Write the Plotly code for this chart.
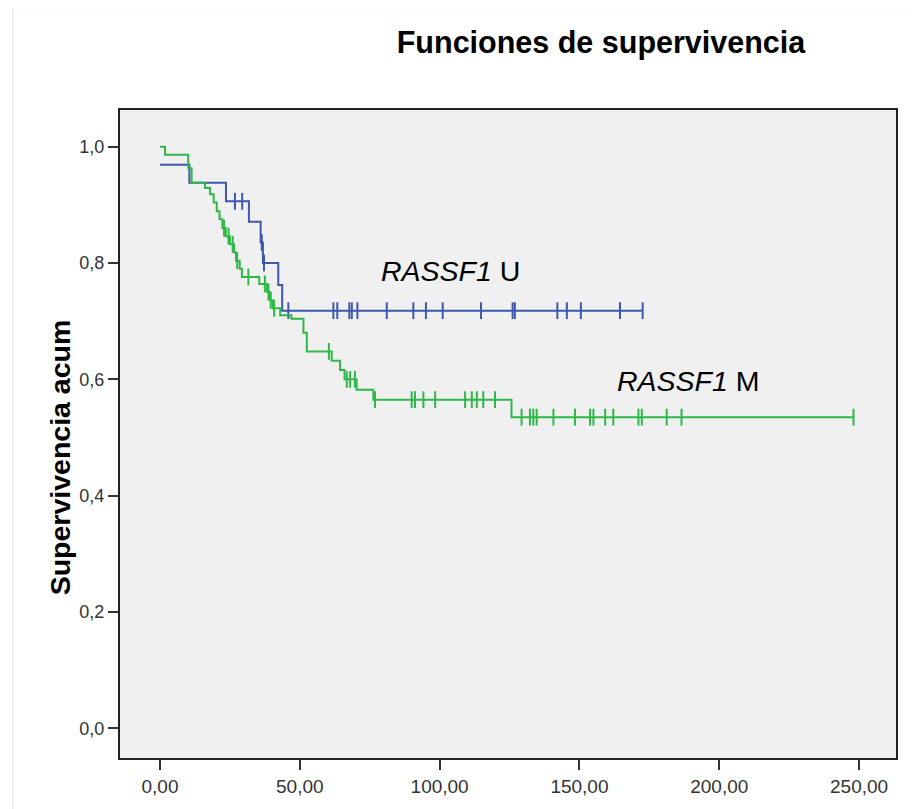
import numpy as np
import plotly.graph_objects as go

# RASSF1 U (no metilado) - tiempos de evento y supervivencia acumulada
u_times = [0, 10.5, 23.6, 31.8, 36.0, 36.8, 42.3, 43.7]
u_surv = [0.969, 0.938, 0.906, 0.871, 0.835, 0.800, 0.762, 0.718]
u_cens = [26.8, 29.4, 36.4, 37.2, 45.9, 62.0, 63.4, 67.7, 68.6, 70.6, 81.1, 90.6,
          95.1, 101.1, 114.8, 126.1, 126.9, 142.1, 145.5, 150.5, 164.5, 172.6]

# RASSF1 M (metilado)
m_times = [0, 1.8, 10.1, 11.3, 16.1, 17.9, 19.2, 20.3, 21.3, 22.3, 23.5, 25.0, 26.5,
           27.2, 28.5, 29.3, 35.5, 38.3, 39.3, 40.3, 43.0, 47.0, 51.3, 52.5, 61.4,
           64.4, 66.0, 70.3, 76.3, 125.7]
m_surv = [1.0, 0.986, 0.963, 0.938, 0.929, 0.918, 0.904, 0.889, 0.875, 0.860, 0.846,
          0.832, 0.818, 0.804, 0.790, 0.776, 0.764, 0.750, 0.736, 0.722, 0.710, 0.704,
          0.680, 0.648, 0.632, 0.616, 0.600, 0.582, 0.565, 0.535]
m_cens = [22.9, 24.5, 26.0, 27.6, 31.6, 37.5, 38.8, 39.6, 40.8, 60.4, 66.8, 68.0, 69.7,
          76.9, 90.0, 91.2, 94.2, 98.4, 109.1, 111.5, 113.3, 115.6, 119.8, 129.3, 132.3,
          133.5, 134.7, 140.7, 148.4, 153.8, 155.0, 159.2, 162.1, 171.1, 172.3, 181.2,
          186.5, 248.0]

BLUE = "#3E58AC"
GREEN = "#2EB848"


def step_value(times, surv, t):
    i = np.searchsorted(times, t, side="right") - 1
    return surv[i]


fig = go.Figure()
for times, surv, cens, col in [(u_times, u_surv, u_cens, BLUE),
                               (m_times, m_surv, m_cens, GREEN)]:
    xs = list(times) + [max(cens)]
    ys = list(surv) + [surv[-1]]
    fig.add_trace(go.Scatter(x=xs, y=ys, mode="lines", line_shape="hv",
                             line=dict(color=col, width=2), showlegend=False))
    fig.add_trace(go.Scatter(x=cens, y=[step_value(times, surv, c) for c in cens],
                             mode="markers", showlegend=False,
                             marker=dict(symbol="line-ns", size=12,
                                         line=dict(color=col, width=2))))

fig.add_annotation(x=104, y=0.787, text="<i>RASSF1</i> U", showarrow=False,
                   font=dict(size=28.5, color="black", family="Liberation Sans"))
fig.add_annotation(x=189, y=0.597, text="<i>RASSF1</i> M", showarrow=False,
                   font=dict(size=28.5, color="black", family="Liberation Sans"))

# titulo del eje y (algo desplazado hacia abajo, como en el original)
fig.add_annotation(xref="paper", yref="paper", x=-0.0773, y=0.464,
                   xanchor="center", yanchor="middle",
                   text="<b>Supervivencia acum</b>", textangle=-90, showarrow=False,
                   font=dict(size=28.5, color="black", family="Liberation Sans"))

fig.update_layout(
    width=913, height=801,
    margin=dict(l=112, r=25, t=102, b=46),
    paper_bgcolor="white", plot_bgcolor="#F0F0F0",
    separators=",.",
    font=dict(family="Liberation Sans", color="#333333"),
    title=dict(text="<b>Funciones de supervivencia</b>", x=0.6495, xanchor="center",
               y=0.9576, yanchor="middle", xref="container", yref="container",
               font=dict(size=30.5, color="black")),
)
fig.update_xaxes(range=[-14.3, 263.2], tickvals=[0, 50, 100, 150, 200, 250],
                 tickformat=".2f", showgrid=False, zeroline=False,
                 showline=True, linecolor="#222222", linewidth=2, mirror=True,
                 ticks="outside", ticklen=10, tickwidth=2, tickcolor="#333333",
                 tickfont=dict(size=19, color="#333333"))
fig.update_yaxes(range=[-0.051, 1.063], tickvals=[0, 0.2, 0.4, 0.6, 0.8, 1.0],
                 tickformat=".1f", showgrid=False, zeroline=False,
                 showline=True, linecolor="#222222", linewidth=2, mirror=True,
                 ticks="outside", ticklen=10, tickwidth=2, tickcolor="#333333",
                 tickfont=dict(size=18, color="#333333"))

# marco exterior gris claro
fig.add_shape(type="line", xref="paper", yref="paper", x0=-0.138, x1=-0.138,
              y0=-0.2, y1=1.158, line=dict(color="#DDDDDD", width=1))
fig.add_shape(type="line", xref="paper", yref="paper", x0=-0.138, x1=1.2,
              y0=1.158, y1=1.158, line=dict(color="#DDDDDD", width=1))

fig.write_html("out.html")
